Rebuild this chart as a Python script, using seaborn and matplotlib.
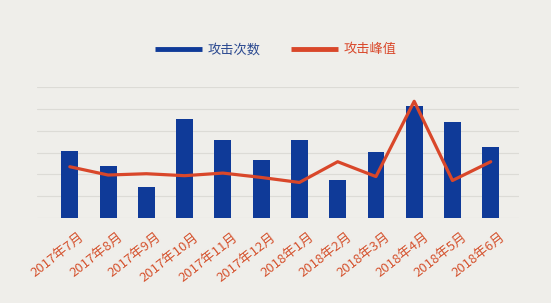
import matplotlib
matplotlib.use("Agg")
import matplotlib.pyplot as plt
import matplotlib.transforms as mtransforms
import seaborn as sns
import pandas as pd
import numpy as np
from matplotlib.lines import Line2D

months = ["2017年7月", "2017年8月", "2017年9月", "2017年10月", "2017年11月", "2017年12月",
          "2018年1月", "2018年2月", "2018年3月", "2018年4月", "2018年5月", "2018年6月"]
attack_count = [3.07, 2.40, 1.44, 4.53, 3.58, 2.66, 3.58, 1.75, 3.01, 5.15, 4.38, 3.26]
attack_peak = [2.35, 1.97, 2.03, 1.94, 2.06, 1.86, 1.63, 2.58, 1.90, 5.35, 1.72, 2.58]
legend_labels = ["攻击次数", "攻击峰值"]

bg = "#efeeea"
blue = "#0f3a98"
red = "#d9472a"
tick_red = "#d5532f"

sns.set_theme(style="white")
plt.rcParams['font.family'] = ['Noto Sans CJK SC', 'DejaVu Sans']

df = pd.DataFrame({"month": months, "count": attack_count, "peak": attack_peak})
df["pos"] = np.arange(len(df))

fig = plt.figure(figsize=(5.51, 3.03), dpi=100, facecolor=bg)
ax = fig.add_axes([0.067, 0.2805, 0.875, 0.432])
ax.set_facecolor(bg)

sns.barplot(data=df, x="pos", y="count", color=blue, width=0.44, ax=ax,
            saturation=1, native_scale=True, linewidth=0, edgecolor=blue)
sns.lineplot(data=df, x="pos", y="peak", color=red, linewidth=2.3, ax=ax)

ax.set_ylim(0, 6)
ax.set_yticks(np.arange(0, 7, 1))
ax.set_xlim(-0.86, 11.74)
ax.yaxis.grid(True, color="#dcdbd6", linewidth=0.8)
ax.set_axisbelow(True)
for s in ax.spines.values():
    s.set_visible(False)
ax.tick_params(axis="y", left=False, labelleft=False)
ax.tick_params(axis="x", bottom=False, pad=3)
ax.set_xticks(df["pos"])
ax.set_xticklabels(months, rotation=38, ha="right", rotation_mode="anchor",
                   color=tick_red, fontsize=9.5)
offset = mtransforms.ScaledTranslation(0.09, 0, fig.dpi_scale_trans)
for lbl in ax.get_xticklabels():
    lbl.set_transform(lbl.get_transform() + offset)
ax.set_xlabel("")
ax.set_ylabel("")

handles = [Line2D([], [], color=blue, linewidth=3.5, solid_capstyle="butt"),
           Line2D([], [], color=red, linewidth=3.5, solid_capstyle="butt")]
leg = fig.legend(handles, legend_labels, loc="center", bbox_to_anchor=(0.5, 0.835),
                 ncol=2, frameon=False, fontsize=9.5, handlelength=3.6,
                 handletextpad=0.4, columnspacing=2.3)
for t, c in zip(leg.get_texts(), ["#2b4990", red]):
    t.set_color(c)

fig.savefig("out.png", dpi=100, facecolor=bg)
